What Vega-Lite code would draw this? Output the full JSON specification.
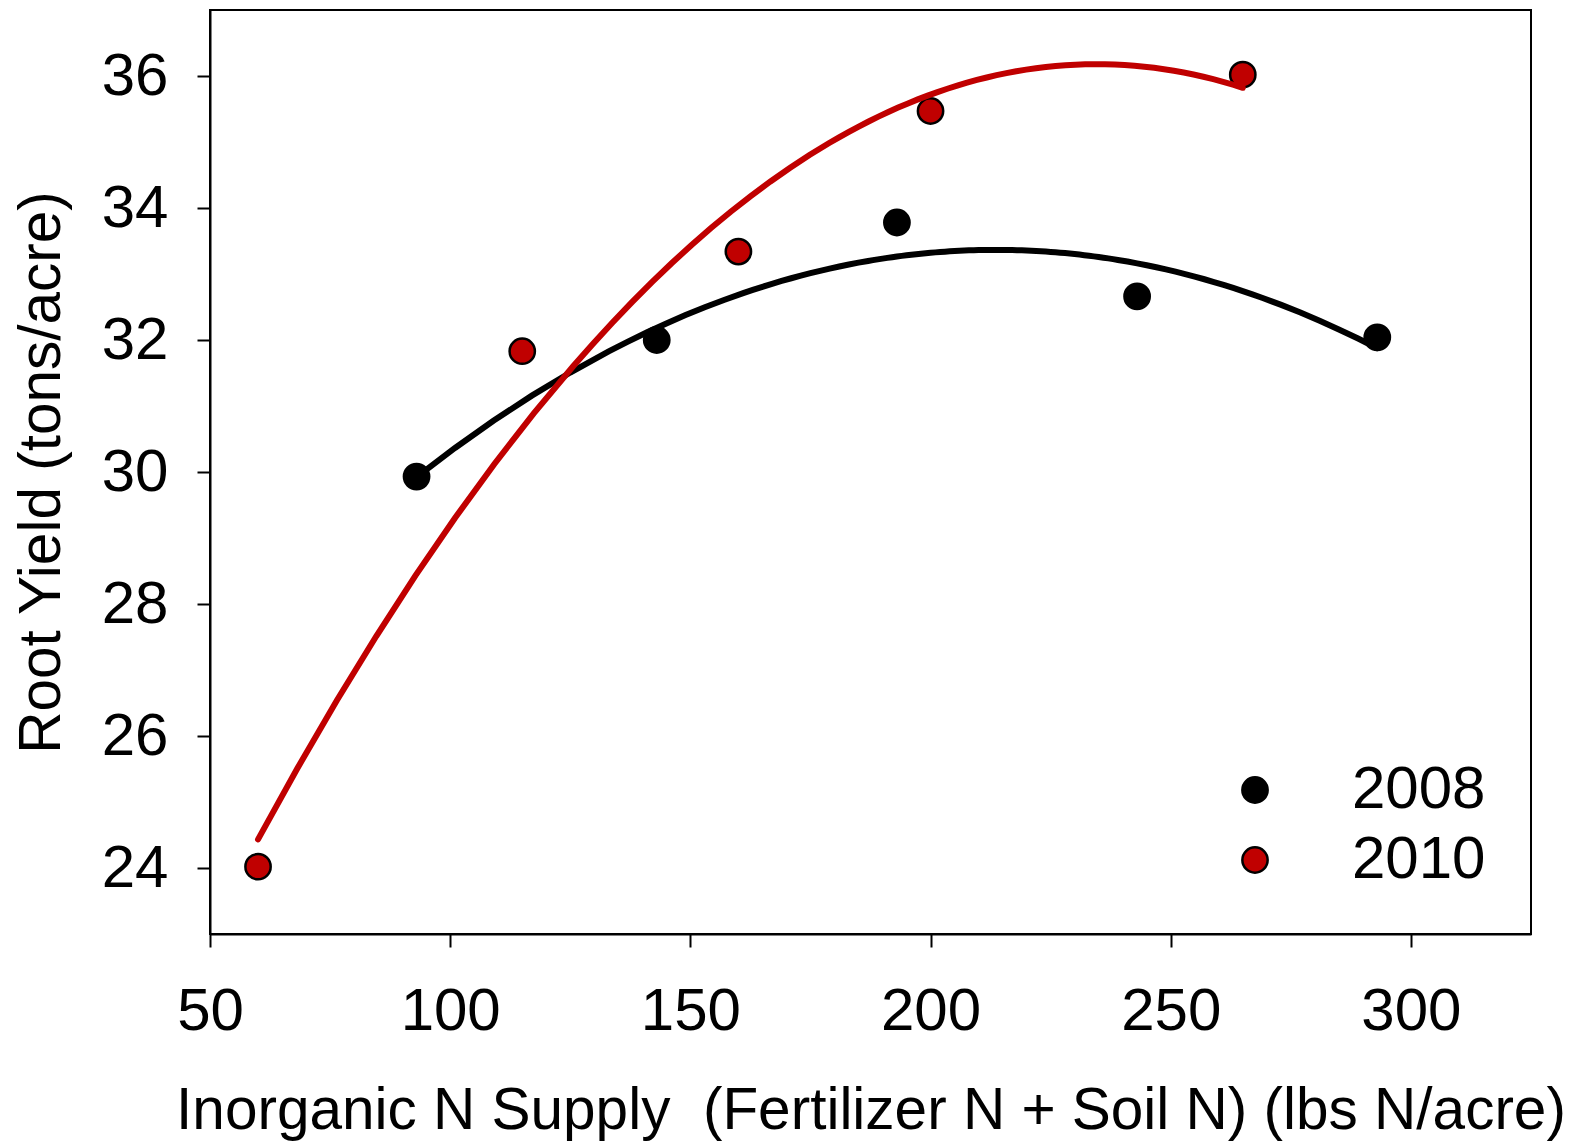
{
  "$schema": "https://vega.github.io/schema/vega-lite/v6.json",
  "autosize": {"type": "none"},
  "padding": {"left": 210, "top": 10, "right": 43, "bottom": 207},
  "width": 1321,
  "height": 924,
  "data": {
    "values": [
      {"year": "2008", "n": 93, "yield": 29.93},
      {"year": "2008", "n": 143, "yield": 32.0},
      {"year": "2008", "n": 193, "yield": 33.78},
      {"year": "2008", "n": 243, "yield": 32.66},
      {"year": "2008", "n": 293, "yield": 32.04},
      {"year": "2010", "n": 60, "yield": 24.02},
      {"year": "2010", "n": 115, "yield": 31.83},
      {"year": "2010", "n": 160, "yield": 33.34},
      {"year": "2010", "n": 200, "yield": 35.47},
      {"year": "2010", "n": 265, "yield": 36.02}
    ]
  },
  "layer": [
    {
      "mark": {"type": "point", "filled": true, "shape": "circle", "size": 640, "stroke": "black", "strokeWidth": 2.5, "opacity": 1},
      "encoding": {
        "x": {"field": "n", "type": "quantitative", "scale": {"domain": [50, 325], "nice": false, "zero": false},
          "axis": {"values": [50, 100, 150, 200, 250, 300], "format": "d", "title": "Inorganic N Supply\u00a0 (Fertilizer N + Soil N) (lbs N/acre)", "labelPadding": 35, "titlePadding": 41}},
        "y": {"field": "yield", "type": "quantitative", "scale": {"domain": [23, 37], "nice": false, "zero": false},
          "axis": {"values": [24, 26, 28, 30, 32, 34, 36], "format": "d", "title": "Root Yield (tons/acre)", "labelPadding": 29, "titlePadding": 30}},
        "fill": {"field": "year", "type": "nominal", "scale": {"domain": ["2008", "2010"], "range": ["#000000", "#c00000"]},
          "legend": {"title": null, "orient": "none", "legendX": 1015, "legendY": 750,
            "symbolSize": 640, "symbolStrokeColor": "black", "symbolStrokeWidth": 2.5, "labelOffset": 67}}
      }
    },
    {
      "transform": [
        {"filter": "datum.year == '2008'"},
        {"regression": "yield", "on": "n", "method": "poly", "order": 2}
      ],
      "mark": {"type": "line", "strokeWidth": 6, "strokeCap": "round", "color": "#000000"},
      "encoding": {
        "x": {"field": "n", "type": "quantitative"},
        "y": {"field": "yield", "type": "quantitative"}
      }
    },
    {
      "transform": [
        {"filter": "datum.year == '2010'"},
        {"regression": "yield", "on": "n", "method": "poly", "order": 2}
      ],
      "mark": {"type": "line", "strokeWidth": 6, "strokeCap": "round", "color": "#c00000"},
      "encoding": {
        "x": {"field": "n", "type": "quantitative"},
        "y": {"field": "yield", "type": "quantitative"}
      }
    }
  ],
  "config": {
    "view": {"stroke": "black", "strokeWidth": 2},
    "axis": {
      "grid": false,
      "domainColor": "black",
      "domainWidth": 2,
      "tickColor": "black",
      "tickWidth": 2,
      "tickSize": 13,
      "labelFont": "Liberation Sans",
      "labelFontSize": 60,
      "labelColor": "black",
      "labelFlush": false,
      "labelOverlap": false,
      "titleFont": "Liberation Sans",
      "titleFontSize": 58.5,
      "titleFontWeight": "normal",
      "titleColor": "black"
    },
    "legend": {
      "symbolType": "circle",
      "labelFont": "Liberation Sans",
      "labelFontSize": 60,
      "labelColor": "black",
      "rowPadding": 10,
      "labelLimit": 400
    }
  }
}
